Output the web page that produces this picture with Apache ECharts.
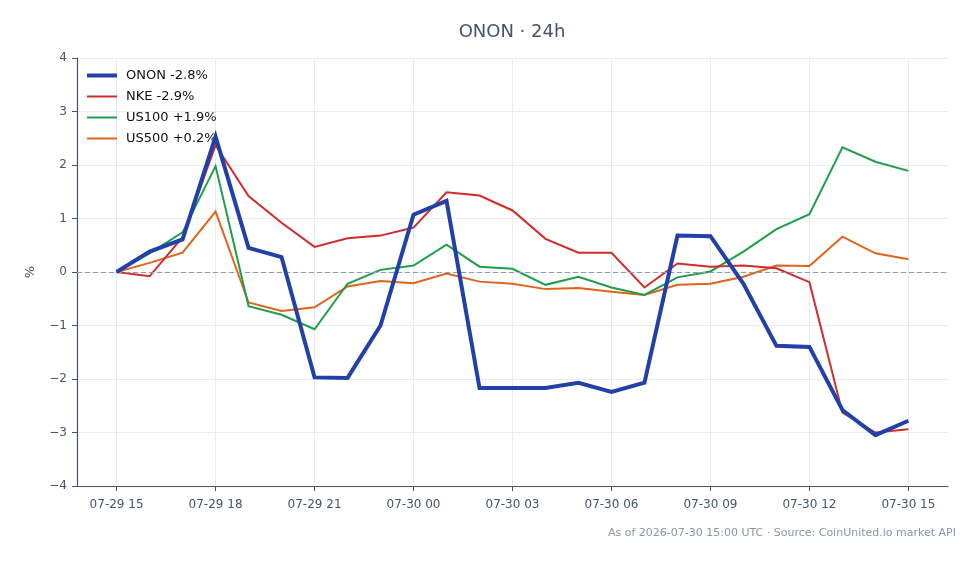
<!DOCTYPE html>
<html>
<head>
<meta charset="utf-8">
<script src="https://cdn.jsdelivr.net/npm/echarts@6/dist/echarts.min.js"></script>
<style>html,body{margin:0;padding:0;background:#fff}#c{width:980px;height:564px}</style>
</head>
<body>
<div id="c"></div>
<script>
const hours = ['07-29 15','07-29 16','07-29 17','07-29 18','07-29 19','07-29 20','07-29 21','07-29 22','07-29 23','07-30 00','07-30 01','07-30 02','07-30 03','07-30 04','07-30 05','07-30 06','07-30 07','07-30 08','07-30 09','07-30 10','07-30 11','07-30 12','07-30 13','07-30 14','07-30 15'];
const onon  = [0, 0.38, 0.61, 2.53, 0.45, 0.28, -1.97, -1.98, -1.0, 1.07, 1.33, -2.17, -2.17, -2.17, -2.07, -2.24, -2.07, 0.68, 0.67, -0.22, -1.38, -1.40, -2.58, -3.05, -2.78];
const nke   = [0, -0.08, 0.65, 2.37, 1.42, 0.92, 0.47, 0.63, 0.68, 0.83, 1.49, 1.43, 1.15, 0.62, 0.36, 0.36, -0.29, 0.16, 0.10, 0.12, 0.07, -0.19, -2.63, -3.0, -2.94];
const us100 = [0, 0.35, 0.74, 1.98, -0.64, -0.80, -1.07, -0.22, 0.04, 0.12, 0.51, 0.10, 0.06, -0.24, -0.09, -0.29, -0.43, -0.10, 0.01, 0.38, 0.80, 1.08, 2.33, 2.06, 1.89];
const us500 = [0, 0.17, 0.36, 1.13, -0.57, -0.73, -0.66, -0.27, -0.17, -0.21, -0.03, -0.18, -0.22, -0.32, -0.30, -0.37, -0.43, -0.24, -0.22, -0.09, 0.12, 0.11, 0.66, 0.35, 0.24];
const seriesNames = ['ONON -2.8%', 'NKE -2.9%', 'US100 +1.9%', 'US500 +0.2%'];
const tickHours = [0, 3, 6, 9, 12, 15, 18, 21, 24];

const toPairs = arr => arr.map((v, i) => [i, v]);
const font = 'DejaVu Sans, sans-serif';
const axisCol = '#44546a';
const colors = ['#2241a8', '#d22b2b', '#1f9e4a', '#e0641a'];
const widths = [4, 2, 2, 2];

const chart = echarts.init(document.getElementById('c'), null, {renderer: 'canvas'});
const mk = (k, data, z) => ({
  name: seriesNames[k], type: 'line', data: toPairs(data), showSymbol: false, symbol: 'none',
  lineStyle: {color: colors[k], width: widths[k], join: 'miter'}, itemStyle: {color: colors[k]}, z, animation: false
});
chart.setOption({
  animation: false,
  graphic: [{
    type: 'text', x: 512, y: 23,
    style: {text: 'ONON · 24h', fontFamily: font, fontSize: 18, fill: axisCol, align: 'center'}
  }, {
    type: 'text', right: 24, top: 528,
    style: {text: 'As of 2026-07-30 15:00 UTC · Source: CoinUnited.io market API', fontFamily: font, fontSize: 11, fill: '#8a95a5'}
  }],
  legend: {
    left: 82, top: 64, orient: 'vertical', itemWidth: 30, itemHeight: 14, itemGap: 8,
    data: seriesNames.map((n, k) => ({
      name: n,
      icon: 'path://M0,0L30,0L30,' + widths[k] + 'L0,' + widths[k] + 'Z',
      itemStyle: {color: colors[k], borderWidth: 0}
    })),
    textStyle: {fontFamily: font, fontSize: 13, color: '#111', padding: [0, 0, 0, 4]}
  },
  grid: {left: 77, right: 32, top: 58, bottom: 78},
  xAxis: {
    type: 'value', min: -1.2, max: 25.2,
    axisLine: {show: true, onZero: false, lineStyle: {color: axisCol, width: 1.2}},
    axisTick: {show: true, length: 5, customValues: tickHours, lineStyle: {color: axisCol}},
    axisLabel: {customValues: tickHours, formatter: v => hours[Math.round(v)] || '', fontFamily: font, fontSize: 12, color: axisCol, margin: 13},
    splitLine: {show: true, lineStyle: {color: '#e8ecf1', width: 1}}
  },
  yAxis: {
    type: 'value', min: -4, max: 4, interval: 1,
    name: '%', nameLocation: 'middle', nameGap: 40, nameRotate: 90,
    nameTextStyle: {fontFamily: font, fontSize: 13, color: axisCol},
    axisLine: {show: true, onZero: false, lineStyle: {color: axisCol, width: 1.2}},
    axisTick: {show: true, length: 5, lineStyle: {color: axisCol}},
    axisLabel: {formatter: v => (v < 0 ? '\u2212' + Math.abs(v) : String(v)), fontFamily: font, fontSize: 12, color: axisCol, margin: 10},
    splitLine: {show: true, lineStyle: {color: '#e8ecf1', width: 1}}
  },
  series: [
    Object.assign(mk(0, onon, 5), {
      markLine: {silent: true, symbol: 'none', label: {show: false},
        lineStyle: {color: '#8f9bb3', type: [5, 3], width: 1}, data: [{yAxis: 0}]}
    }),
    mk(1, nke, 4),
    mk(2, us100, 3),
    mk(3, us500, 2)
  ]
});
</script>
</body>
</html>
